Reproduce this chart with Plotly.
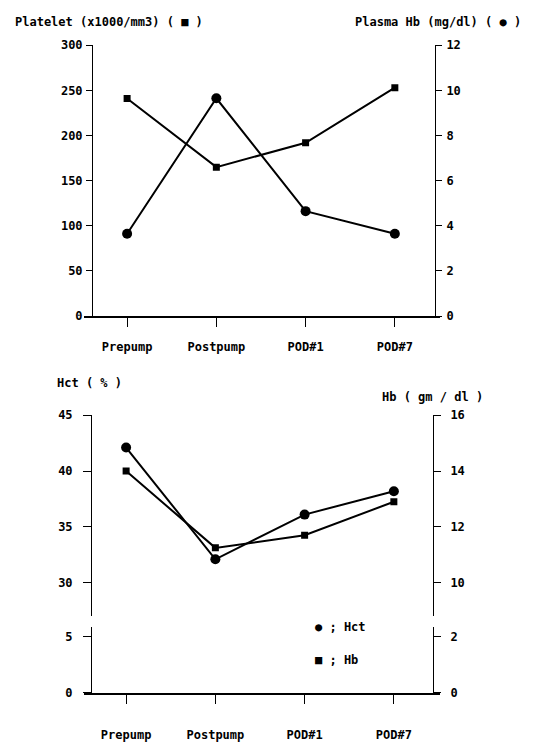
import plotly.graph_objects as go

# ---------------- data ----------------
categories = ["Prepump", "Postpump", "POD#1", "POD#7"]
platelet = [241, 165, 192, 253]          # x1000/mm3  (squares, left axis)
plasma_hb = [3.65, 9.65, 4.65, 3.65]     # mg/dl      (circles, right axis)
hct = [42.1, 32.1, 36.1, 38.2]           # %          (circles, left axis)
hb = [14.0, 11.25, 11.7, 12.9]           # gm/dl      (squares, right axis)

platelet_ticks = [0, 50, 100, 150, 200, 250, 300]
plasma_ticks = [0, 2, 4, 6, 8, 10, 12]
hct_upper_ticks = [30, 35, 40, 45]
hct_lower_ticks = [0, 5]
hb_upper_ticks = [10, 12, 14, 16]
hb_lower_ticks = [0, 2]

W, H = 539, 744
FONT = "DejaVu Sans Mono"


def px_x(p):
    return p / W


def px_y(p):
    return 1 - p / H


line_style = dict(color="black", width=2)
circle = dict(symbol="circle", size=10, color="black")
square = dict(symbol="square", size=7, color="black")

fig = go.Figure()

# top chart
fig.add_trace(go.Scatter(x=categories, y=platelet, mode="lines+markers",
                         line=line_style, marker=square, xaxis="x", yaxis="y",
                         showlegend=False))
fig.add_trace(go.Scatter(x=categories, y=plasma_hb, mode="lines+markers",
                         line=line_style, marker=circle, xaxis="x", yaxis="y2",
                         showlegend=False))
# bottom chart (broken axis: upper part y4/y5, lower part y3/y6)
fig.add_trace(go.Scatter(x=categories, y=hct, mode="lines+markers",
                         line=line_style, marker=circle, xaxis="x2", yaxis="y4",
                         showlegend=False))
fig.add_trace(go.Scatter(x=categories, y=hb, mode="lines+markers",
                         line=line_style, marker=square, xaxis="x2", yaxis="y5",
                         showlegend=False))
fig.add_trace(go.Scatter(x=[], y=[], xaxis="x2", yaxis="y3", showlegend=False,
                         hoverinfo="skip"))
fig.add_trace(go.Scatter(x=[], y=[], xaxis="x2", yaxis="y6", showlegend=False,
                         hoverinfo="skip"))

tickfont = dict(family=FONT, size=12, color="black", weight="bold")

xcommon = dict(type="category", showline=True, linecolor="black", linewidth=2,
               ticks="outside", ticklen=9, tickwidth=1, tickcolor="black",
               showgrid=False, zeroline=False, tickfont=tickfont,
               domain=[px_x(84), px_x(440)], ticklabelstandoff=10)

ycommon = dict(showline=True, linecolor="black", linewidth=1, ticks="outside",
               ticklen=6, tickwidth=1, tickcolor="black", showgrid=False,
               zeroline=False, tickfont=tickfont, anchor="free")


def yax(**kw):
    d = dict(ycommon)
    d.update(kw)
    return d


def xax(**kw):
    d = dict(xcommon)
    d.update(kw)
    return d


top_dom = [px_y(315), px_y(39)]
up_dom = [px_y(621), px_y(416)]
lo_dom = [px_y(699), px_y(632)]

fig.update_layout(
    width=W, height=H,
    margin=dict(l=0, r=0, t=0, b=0),
    paper_bgcolor="white", plot_bgcolor="white",
    xaxis=xax(range=[-0.483, 3.506], anchor="y"),
    xaxis2=xax(range=[-0.472, 3.517], anchor="y3", ticklabelstandoff=21),
    yaxis=yax(domain=top_dom, range=[0, 300], tickvals=platelet_ticks,
              side="left", position=px_x(92), ticklabelstandoff=1),
    yaxis2=yax(domain=top_dom, range=[0, 12], tickvals=plasma_ticks,
               side="right", overlaying="y", position=px_x(435),
               ticklabelstandoff=2),
    yaxis3=yax(domain=lo_dom, range=[0, 5.88], tickvals=hct_lower_ticks,
               side="left", position=px_x(91), ticklen=8, ticklabelstandoff=8),
    yaxis4=yax(domain=up_dom, range=[27, 45], tickvals=hct_upper_ticks,
               side="left", position=px_x(91), ticklen=8, ticklabelstandoff=8),
    yaxis5=yax(domain=up_dom, range=[8.8, 16], tickvals=hb_upper_ticks,
               side="right", overlaying="y4", position=px_x(433), ticklen=7,
               ticklabelstandoff=7),
    yaxis6=yax(domain=lo_dom, range=[0, 2.352], tickvals=hb_lower_ticks,
               side="right", overlaying="y3", position=px_x(433), ticklen=7,
               ticklabelstandoff=7),
)

labfont = dict(family=FONT, size=12, color="black", weight="bold")


def label(text, x, y, xanchor="left", size=12):
    f = dict(labfont)
    f["size"] = size
    fig.add_annotation(text=text, x=px_x(x), y=px_y(y), xref="paper", yref="paper",
                       xanchor=xanchor, yanchor="middle", showarrow=False, font=f)


label("Platelet (x1000/mm3) ( ■ )", 13, 15)
label("Plasma Hb (mg/dl) ( ● )", 353, 15)
label("Hct ( % )", 55, 383)
label("Hb ( gm / dl )", 380, 397)
label("● ; Hct", 313, 632)
label("■ ; Hb", 313, 666)

fig.write_html("out.html")
